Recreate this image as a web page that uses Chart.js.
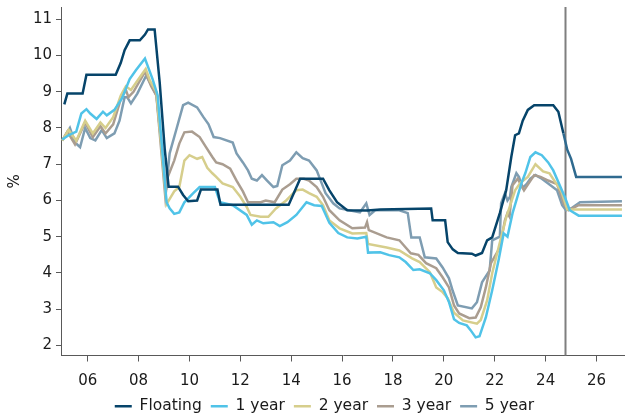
<!DOCTYPE html>
<html>
<head>
<meta charset="utf-8">
<script src="https://cdn.jsdelivr.net/npm/chart.js@4"></script>
<style>
  html, body { margin: 0; padding: 0; background: #fff; }
  #wrap { width: 625px; height: 416px; }
</style>
</head>
<body>
<div id="wrap"><canvas id="chart"></canvas></div>
<script>
// [year, percent]
const floating = [[2005.08, 8.65], [2005.2, 8.95], [2005.8, 8.95], [2005.95, 9.47], [2007.1, 9.47], [2007.3, 9.8], [2007.45, 10.15], [2007.65, 10.42], [2008.05, 10.42], [2008.25, 10.58], [2008.37, 10.72], [2008.63, 10.72], [2008.83, 9.25], [2009.03, 7.4], [2009.18, 6.38], [2009.55, 6.38], [2009.75, 6.15], [2009.95, 5.98], [2010.3, 6.0], [2010.45, 6.3], [2011.1, 6.3], [2011.22, 5.88], [2013.9, 5.88], [2014.1, 6.2], [2014.35, 6.6], [2015.25, 6.6], [2015.5, 6.28], [2015.8, 5.95], [2016.2, 5.73], [2017.0, 5.72], [2017.5, 5.75], [2019.5, 5.78], [2019.56, 5.45], [2020.05, 5.45], [2020.15, 4.85], [2020.35, 4.65], [2020.55, 4.55], [2021.1, 4.53], [2021.25, 4.48], [2021.5, 4.55], [2021.7, 4.9], [2021.9, 4.98], [2022.2, 5.65], [2022.45, 6.28], [2022.65, 7.2], [2022.8, 7.8], [2022.95, 7.85], [2023.1, 8.2], [2023.3, 8.5], [2023.55, 8.63], [2024.3, 8.63], [2024.5, 8.45], [2024.7, 7.85], [2024.85, 7.4], [2025.0, 7.15], [2025.2, 6.65], [2027.0, 6.65]];
const oneYear = [[2005.0, 7.68], [2005.25, 7.8], [2005.55, 7.9], [2005.75, 8.4], [2005.95, 8.52], [2006.1, 8.4], [2006.35, 8.25], [2006.6, 8.45], [2006.75, 8.35], [2007.05, 8.5], [2007.35, 8.82], [2007.65, 9.35], [2007.9, 9.6], [2008.25, 9.92], [2008.35, 9.73], [2008.55, 9.35], [2008.75, 8.9], [2009.1, 5.95], [2009.22, 5.78], [2009.4, 5.63], [2009.6, 5.67], [2009.8, 5.95], [2010.15, 6.2], [2010.4, 6.37], [2011.0, 6.37], [2011.2, 5.95], [2011.7, 5.87], [2012.25, 5.6], [2012.45, 5.33], [2012.65, 5.45], [2012.9, 5.37], [2013.3, 5.4], [2013.55, 5.29], [2013.85, 5.4], [2014.2, 5.6], [2014.6, 5.95], [2014.9, 5.87], [2015.2, 5.85], [2015.5, 5.38], [2015.85, 5.1], [2016.2, 4.98], [2016.6, 4.95], [2016.95, 5.0], [2017.02, 4.56], [2017.5, 4.57], [2017.85, 4.49], [2018.25, 4.43], [2018.5, 4.3], [2018.8, 4.08], [2019.05, 4.1], [2019.45, 3.99], [2019.7, 3.8], [2020.0, 3.52], [2020.2, 3.2], [2020.4, 2.72], [2020.6, 2.62], [2020.9, 2.55], [2021.05, 2.42], [2021.25, 2.22], [2021.4, 2.25], [2021.65, 2.77], [2021.9, 3.52], [2022.15, 4.35], [2022.35, 5.09], [2022.5, 5.0], [2022.7, 5.65], [2023.05, 6.48], [2023.2, 6.75], [2023.4, 7.2], [2023.6, 7.33], [2023.85, 7.25], [2024.1, 7.05], [2024.3, 6.83], [2024.75, 6.1], [2024.95, 5.73], [2025.3, 5.58], [2027.0, 5.58]];
const twoYear = [[2005.0, 7.65], [2005.25, 7.95], [2005.55, 7.65], [2005.9, 8.2], [2006.2, 7.85], [2006.5, 8.15], [2006.7, 8.0], [2007.0, 8.3], [2007.3, 8.9], [2007.5, 9.15], [2007.7, 9.05], [2008.0, 9.35], [2008.28, 9.63], [2008.45, 9.3], [2008.7, 9.0], [2009.1, 5.9], [2009.4, 6.25], [2009.6, 6.37], [2009.8, 7.1], [2010.0, 7.25], [2010.3, 7.15], [2010.5, 7.2], [2010.7, 6.9], [2010.9, 6.75], [2011.05, 6.65], [2011.3, 6.47], [2011.7, 6.37], [2012.0, 6.1], [2012.25, 5.82], [2012.4, 5.6], [2012.8, 5.55], [2013.1, 5.55], [2013.4, 5.78], [2013.8, 6.0], [2014.2, 6.28], [2014.45, 6.3], [2014.7, 6.2], [2015.0, 6.1], [2015.25, 5.87], [2015.5, 5.45], [2015.9, 5.23], [2016.4, 5.09], [2016.95, 5.1], [2017.02, 4.8], [2017.75, 4.7], [2018.25, 4.62], [2018.75, 4.4], [2019.05, 4.3], [2019.45, 4.02], [2019.7, 3.6], [2019.95, 3.47], [2020.15, 3.3], [2020.4, 2.9], [2020.75, 2.69], [2021.3, 2.6], [2021.45, 2.7], [2021.7, 3.24], [2021.9, 3.99], [2022.15, 4.7], [2022.45, 5.53], [2022.6, 5.85], [2022.8, 6.28], [2023.0, 6.48], [2023.3, 6.65], [2023.6, 7.0], [2023.9, 6.8], [2024.15, 6.75], [2024.62, 6.25], [2024.85, 5.75], [2027.0, 5.75]];
const threeYear = [[2005.0, 7.65], [2005.2, 7.9], [2005.5, 7.55], [2005.9, 8.15], [2006.2, 7.75], [2006.5, 8.05], [2006.7, 7.85], [2007.0, 8.1], [2007.3, 8.8], [2007.5, 9.05], [2007.6, 8.85], [2007.8, 9.0], [2008.25, 9.55], [2008.5, 9.15], [2008.7, 8.9], [2009.05, 6.1], [2009.15, 6.65], [2009.4, 7.1], [2009.6, 7.57], [2009.8, 7.88], [2010.1, 7.9], [2010.4, 7.75], [2010.65, 7.47], [2010.9, 7.2], [2011.05, 7.05], [2011.3, 7.0], [2011.6, 6.88], [2011.85, 6.55], [2012.1, 6.25], [2012.3, 5.95], [2012.8, 5.95], [2013.0, 6.0], [2013.35, 5.95], [2013.65, 6.3], [2013.95, 6.45], [2014.2, 6.6], [2014.5, 6.6], [2014.7, 6.55], [2015.0, 6.37], [2015.25, 6.1], [2015.5, 5.73], [2015.9, 5.45], [2016.4, 5.23], [2016.9, 5.25], [2016.98, 5.4], [2017.05, 5.18], [2017.75, 4.98], [2018.25, 4.9], [2018.7, 4.54], [2019.0, 4.5], [2019.3, 4.27], [2019.7, 4.13], [2019.95, 3.88], [2020.2, 3.6], [2020.4, 3.1], [2020.6, 2.88], [2021.0, 2.75], [2021.25, 2.77], [2021.45, 3.05], [2021.65, 3.6], [2021.85, 4.27], [2022.2, 4.7], [2022.4, 5.45], [2022.5, 5.65], [2022.58, 5.55], [2022.7, 6.42], [2022.9, 6.6], [2023.15, 6.28], [2023.55, 6.7], [2023.8, 6.65], [2024.1, 6.55], [2024.45, 6.45], [2024.72, 5.9], [2024.9, 5.73], [2025.3, 5.87], [2027.0, 5.87]];
const fiveYear = [[2005.0, 7.66], [2005.3, 8.0], [2005.5, 7.6], [2005.7, 7.47], [2005.9, 8.0], [2006.1, 7.72], [2006.3, 7.66], [2006.55, 7.94], [2006.75, 7.72], [2007.05, 7.85], [2007.25, 8.2], [2007.45, 8.85], [2007.55, 8.85], [2007.7, 8.68], [2007.95, 8.95], [2008.3, 9.45], [2008.5, 9.18], [2008.7, 8.9], [2009.08, 6.3], [2009.22, 7.3], [2009.5, 8.0], [2009.75, 8.63], [2009.95, 8.7], [2010.3, 8.57], [2010.55, 8.3], [2010.75, 8.1], [2010.95, 7.75], [2011.2, 7.72], [2011.7, 7.6], [2011.85, 7.3], [2012.1, 7.05], [2012.3, 6.83], [2012.45, 6.6], [2012.65, 6.55], [2012.85, 6.7], [2013.05, 6.55], [2013.3, 6.37], [2013.45, 6.4], [2013.65, 6.97], [2013.95, 7.1], [2014.2, 7.33], [2014.45, 7.17], [2014.7, 7.1], [2015.0, 6.83], [2015.1, 6.65], [2015.35, 6.2], [2015.65, 5.92], [2015.9, 5.78], [2016.7, 5.67], [2016.95, 5.92], [2017.08, 5.6], [2017.3, 5.73], [2018.25, 5.73], [2018.58, 5.65], [2018.72, 4.98], [2019.05, 4.98], [2019.25, 4.43], [2019.7, 4.4], [2019.95, 4.15], [2020.2, 3.85], [2020.35, 3.5], [2020.55, 3.1], [2021.1, 3.02], [2021.3, 3.19], [2021.5, 3.74], [2021.8, 4.07], [2021.9, 4.9], [2022.2, 5.0], [2022.25, 5.92], [2022.4, 6.2], [2022.5, 6.0], [2022.6, 6.1], [2022.65, 6.37], [2022.85, 6.75], [2022.95, 6.65], [2023.1, 6.35], [2023.25, 6.45], [2023.4, 6.6], [2023.6, 6.7], [2023.85, 6.6], [2024.1, 6.47], [2024.45, 6.28], [2024.65, 5.87], [2024.8, 5.73], [2025.0, 5.78], [2025.35, 5.95], [2027.0, 5.98]];

const seriesNames = ['Floating', '1 year', '2 year', '3 year', '5 year'];
const seriesColors = ['#06446a', '#50c3e8', '#d6ce8c', '#aa9d90', '#7e9db2'];
const xTickYears = [2006, 2008, 2010, 2012, 2014, 2016, 2018, 2020, 2022, 2024, 2026];
const yTickValues = [2, 3, 4, 5, 6, 7, 8, 9, 10, 11];
const forecastStart = 2024.75;

const FONT = "'DejaVu Sans', Verdana, sans-serif";
const toPoints = arr => arr.map(p => ({ x: p[0], y: p[1] }));

const forecastLine = {
  id: 'forecastLine',
  beforeDatasetsDraw(chart) {
    const { ctx, chartArea, scales } = chart;
    const x = Math.round(scales.x.getPixelForValue(forecastStart)) + 0.5;
    ctx.save();
    ctx.strokeStyle = '#7f7f7f';
    ctx.lineWidth = 2;
    ctx.beginPath();
    ctx.moveTo(x, chartArea.top);
    ctx.lineTo(x, chartArea.bottom);
    ctx.stroke();
    ctx.restore();
  }
};

// the legend sits a little right of the canvas centre in the original
const legendShift = {
  id: 'legendShift',
  beforeDraw(chart) {
    const lg = chart.legend;
    if (!lg || lg._shifted) return;
    lg.left += 12;
    lg.right += 12;
    lg.adjustHitBoxes();
    lg._shifted = true;
  }
};

const datasets = [floating, oneYear, twoYear, threeYear, fiveYear].map((d, i) => ({
  label: seriesNames[i],
  data: toPoints(d),
  borderColor: seriesColors[i],
  backgroundColor: seriesColors[i],
  borderWidth: 2.5,
  pointRadius: 0,
  tension: 0,
  segment: i === 0 ? {
    borderColor: c => c.p0.parsed.x >= forecastStart - 0.05 ? '#2f6a8f' : undefined
  } : undefined
}));

new Chart(document.getElementById('chart'), {
  type: 'line',
  data: { datasets },
  options: {
    responsive: true,
    maintainAspectRatio: false,
    animation: false,
    layout: { padding: { top: 7, right: 0, left: 0, bottom: -8 } },
    plugins: {
      legend: {
        position: 'bottom',
        labels: {
          usePointStyle: true,
          pointStyle: 'line',
          pointStyleWidth: 17,
          padding: 9,
          color: '#1a1a1a',
          font: { family: FONT, size: 15.5 }
        }
      },
      tooltip: { enabled: false }
    },
    scales: {
      x: {
        type: 'linear',
        min: 2004.95,
        max: 2027.12,
        afterFit: s => { s.height = 34; s.paddingLeft = 0; s.paddingRight = 0; },
        afterBuildTicks: s => { s.ticks = xTickYears.map(v => ({ value: v })); },
        grid: { drawOnChartArea: false, drawTicks: true, tickLength: 6, color: '#595959' },
        border: { display: true, color: '#595959', width: 1 },
        ticks: {
          padding: 11,
          maxRotation: 0,
          color: '#1a1a1a',
          font: { family: FONT, size: 15 },
          callback: v => String(v).slice(2)
        }
      },
      y: {
        min: 1.72,
        max: 11.34,
        afterFit: s => { s.width = 61; s.paddingTop = 0; s.paddingBottom = 0; },
        afterBuildTicks: s => { s.ticks = yTickValues.map(v => ({ value: v })); },
        grid: { drawOnChartArea: false, drawTicks: true, tickLength: 5, color: '#595959' },
        border: { display: true, color: '#595959', width: 1 },
        ticks: {
          padding: 4,
          color: '#1a1a1a',
          font: { family: FONT, size: 15 }
        },
        title: {
          display: true,
          text: '%',
          color: '#1a1a1a',
          padding: { top: 6, bottom: 0 },
          font: { family: FONT, size: 15 }
        }
      }
    }
  },
  plugins: [forecastLine, legendShift]
});
</script>
</body>
</html>
